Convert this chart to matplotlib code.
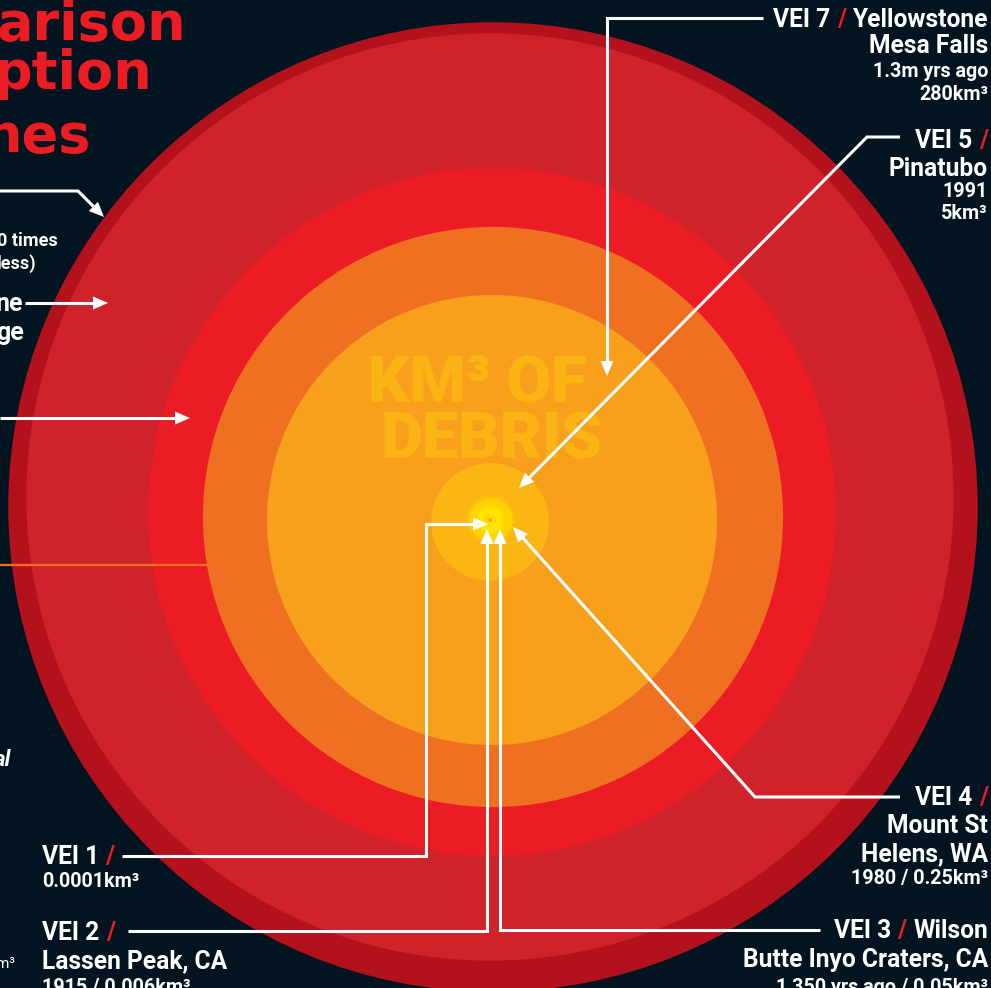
import numpy as np
import matplotlib.pyplot as plt
from matplotlib.patches import Circle, Polygon

# erupted volume (km3) of each disc, biggest first
volumes = [2800, 2450, 1000, 600, 280, 5, 0.25, 0.05, 0.006, 0.0001]
disc_colors = ['#b3121c', '#cf222b', '#ec1c24', '#f07022', '#f8a01c',
               '#fbb614', '#ffd200', '#ffe600', '#ffd800', '#f39a1c']
disc_centers = [(493, 507), (490, 497), (492, 512), (493, 517), (492, 520),
                (490, 522), (491, 520), (490, 520), (490, 520), (490, 520)]

# right-hand labels: (baseline y, [(text, colour)...], font size)
BIG, SMALL = 17.7, 14.2
right_labels = [
    (27, [('VEI 7', 'w'), ('/', 'r'), ('Yellowstone', 'w')], BIG),
    (53, [('Mesa Falls', 'w')], BIG),
    (77, [('1.3m yrs ago', 'w')], SMALL),
    (100, [('280km³', 'w')], SMALL),
    (148, [('VEI 5', 'w'), ('/', 'r')], BIG),
    (176, [('Pinatubo', 'w')], BIG),
    (197, [('1991', 'w')], SMALL),
    (219, [('5km³', 'w')], SMALL),
    (805, [('VEI 4', 'w'), ('/', 'r')], BIG),
    (833, [('Mount St', 'w')], BIG),
    (861, [('Helens, WA', 'w')], BIG),
    (884, [('1980 / 0.25km³', 'w')], SMALL),
    (938, [('VEI 3', 'w'), ('/', 'r'), ('Wilson', 'w')], BIG),
    (967, [('Butte Inyo Craters, CA', 'w')], BIG),
    (993, [('1,350 yrs ago / 0.05km³', 'w')], SMALL),
]
left_labels = [
    (864, [('VEI 1', 'w'), ('/', 'r')], BIG),
    (887, [('0.0001km³', 'w')], SMALL),
    (940, [('VEI 2', 'w'), ('/', 'r')], BIG),
    (968, [('Lassen Peak, CA', 'w')], BIG),
    (993, [('1915 / 0.006km³', 'w')], SMALL),
]

# leader lines, last point is the arrow tip
leaders = [
    [(763, 18), (607, 18), (607, 376)],
    [(900, 137), (867, 137), (519, 488)],
    [(900, 797), (755, 797), (513, 527)],
    [(820, 930), (500, 930), (500, 529)],
    [(128, 931), (487, 931), (487, 529)],
    [(122, 856), (426, 856), (426, 524), (488, 524)],
    [(0, 191), (78, 191), (104, 217)],
    [(25, 303), (108, 303)],
    [(0, 418), (190, 418)],
]

BG = '#02141f'
RED = '#ec1c24'
WHITE = '#ffffff'
label_font = ['Roboto', 'DejaVu Sans']

fig = plt.figure(figsize=(9.91, 9.88), dpi=100)
fig.patch.set_facecolor(BG)
ax = fig.add_axes([0, 0, 1, 1])
ax.set_xlim(0, 991)
ax.set_ylim(988, 0)
ax.set_aspect('equal')
ax.axis('off')

# disc radius scales with the cube root of the volume
k = 225 / 280 ** (1 / 3)
for v, c, (cx, cy) in zip(volumes, disc_colors, disc_centers):
    r = k * v ** (1 / 3)
    if 0.01 < v < 1:
        # soft glow round the tiny discs
        ax.add_patch(Circle((cx, cy), r + 3, color=c, alpha=0.3, lw=0, zorder=2))
    ax.add_patch(Circle((cx, cy), r, color=c, lw=0, zorder=2))

# orange pointer to the 600 km3 disc
ax.plot([0, 210], [565, 565], color='#f07022', lw=1.6, zorder=3)

debris_kw = dict(color='#fbb414', fontsize=46.5, fontweight='black',
                 family=label_font, ha='left', va='baseline', zorder=3)
ax.text(368, 401, 'KM³ OF', **debris_kw)
ax.text(381, 458, 'DEBRIS', **debris_kw)


def arrow(pts, head_len=15, head_w=6.5):
    pts = np.array(pts, dtype=float)
    tip = pts[-1]
    d = tip - pts[-2]
    d /= np.hypot(*d)
    base = tip - d * head_len
    line = np.vstack([pts[:-1], base + d * 2])
    ax.plot(line[:, 0], line[:, 1], color=WHITE, lw=2.2,
            solid_joinstyle='miter', solid_capstyle='butt', zorder=5)
    n = np.array([-d[1], d[0]])
    ax.add_patch(Polygon([tip, base + n * head_w, base - n * head_w],
                         closed=True, color=WHITE, lw=0, zorder=5))


for pts in leaders:
    arrow(pts)

renderer = fig.canvas.get_renderer()


def rich_line(x, y, parts, size, ha):
    gap = size * 100 / 72 * 0.26
    seq = list(reversed(parts)) if ha == 'right' else parts
    for s, c in seq:
        t = ax.text(x, y, s, color=RED if c == 'r' else WHITE, fontsize=size,
                    fontweight='bold', family=label_font, ha=ha,
                    va='baseline', zorder=6)
        w = t.get_window_extent(renderer).width
        x = x - w - gap if ha == 'right' else x + w + gap


for y, parts, size in right_labels:
    rich_line(988, y, parts, size, 'right')
for y, parts, size in left_labels:
    rich_line(42, y, parts, size, 'left')

# headline and side notes running in from the left edge
title_kw = dict(color=RED, fontsize=39, fontweight='heavy',
                family=['DejaVu Sans'], ha='left', va='baseline', zorder=6)
ax.text(-3, 40, 'arison', **title_kw)
ax.text(-7, 89, 'ption', **title_kw)
ax.text(-17, 152, 'nes', **title_kw)

note_kw = dict(color=WHITE, fontweight='bold', family=label_font,
               ha='left', va='baseline', zorder=6)
ax.text(-3, 246, '0 times', fontsize=13, **note_kw)
ax.text(-3, 269, 'less)', fontsize=13, **note_kw)
ax.text(-4, 311, 'ne', fontsize=18, **note_kw)
ax.text(-4, 340, 'ge', fontsize=18, **note_kw)
ax.text(-6, 766, 'al', fontsize=16, style='italic', **note_kw)
ax.text(-4, 968, 'm³', fontsize=11, color=WHITE, fontweight='normal',
        family=label_font, ha='left', va='baseline', zorder=6)

fig.savefig('out.png', dpi=100, facecolor=BG)
